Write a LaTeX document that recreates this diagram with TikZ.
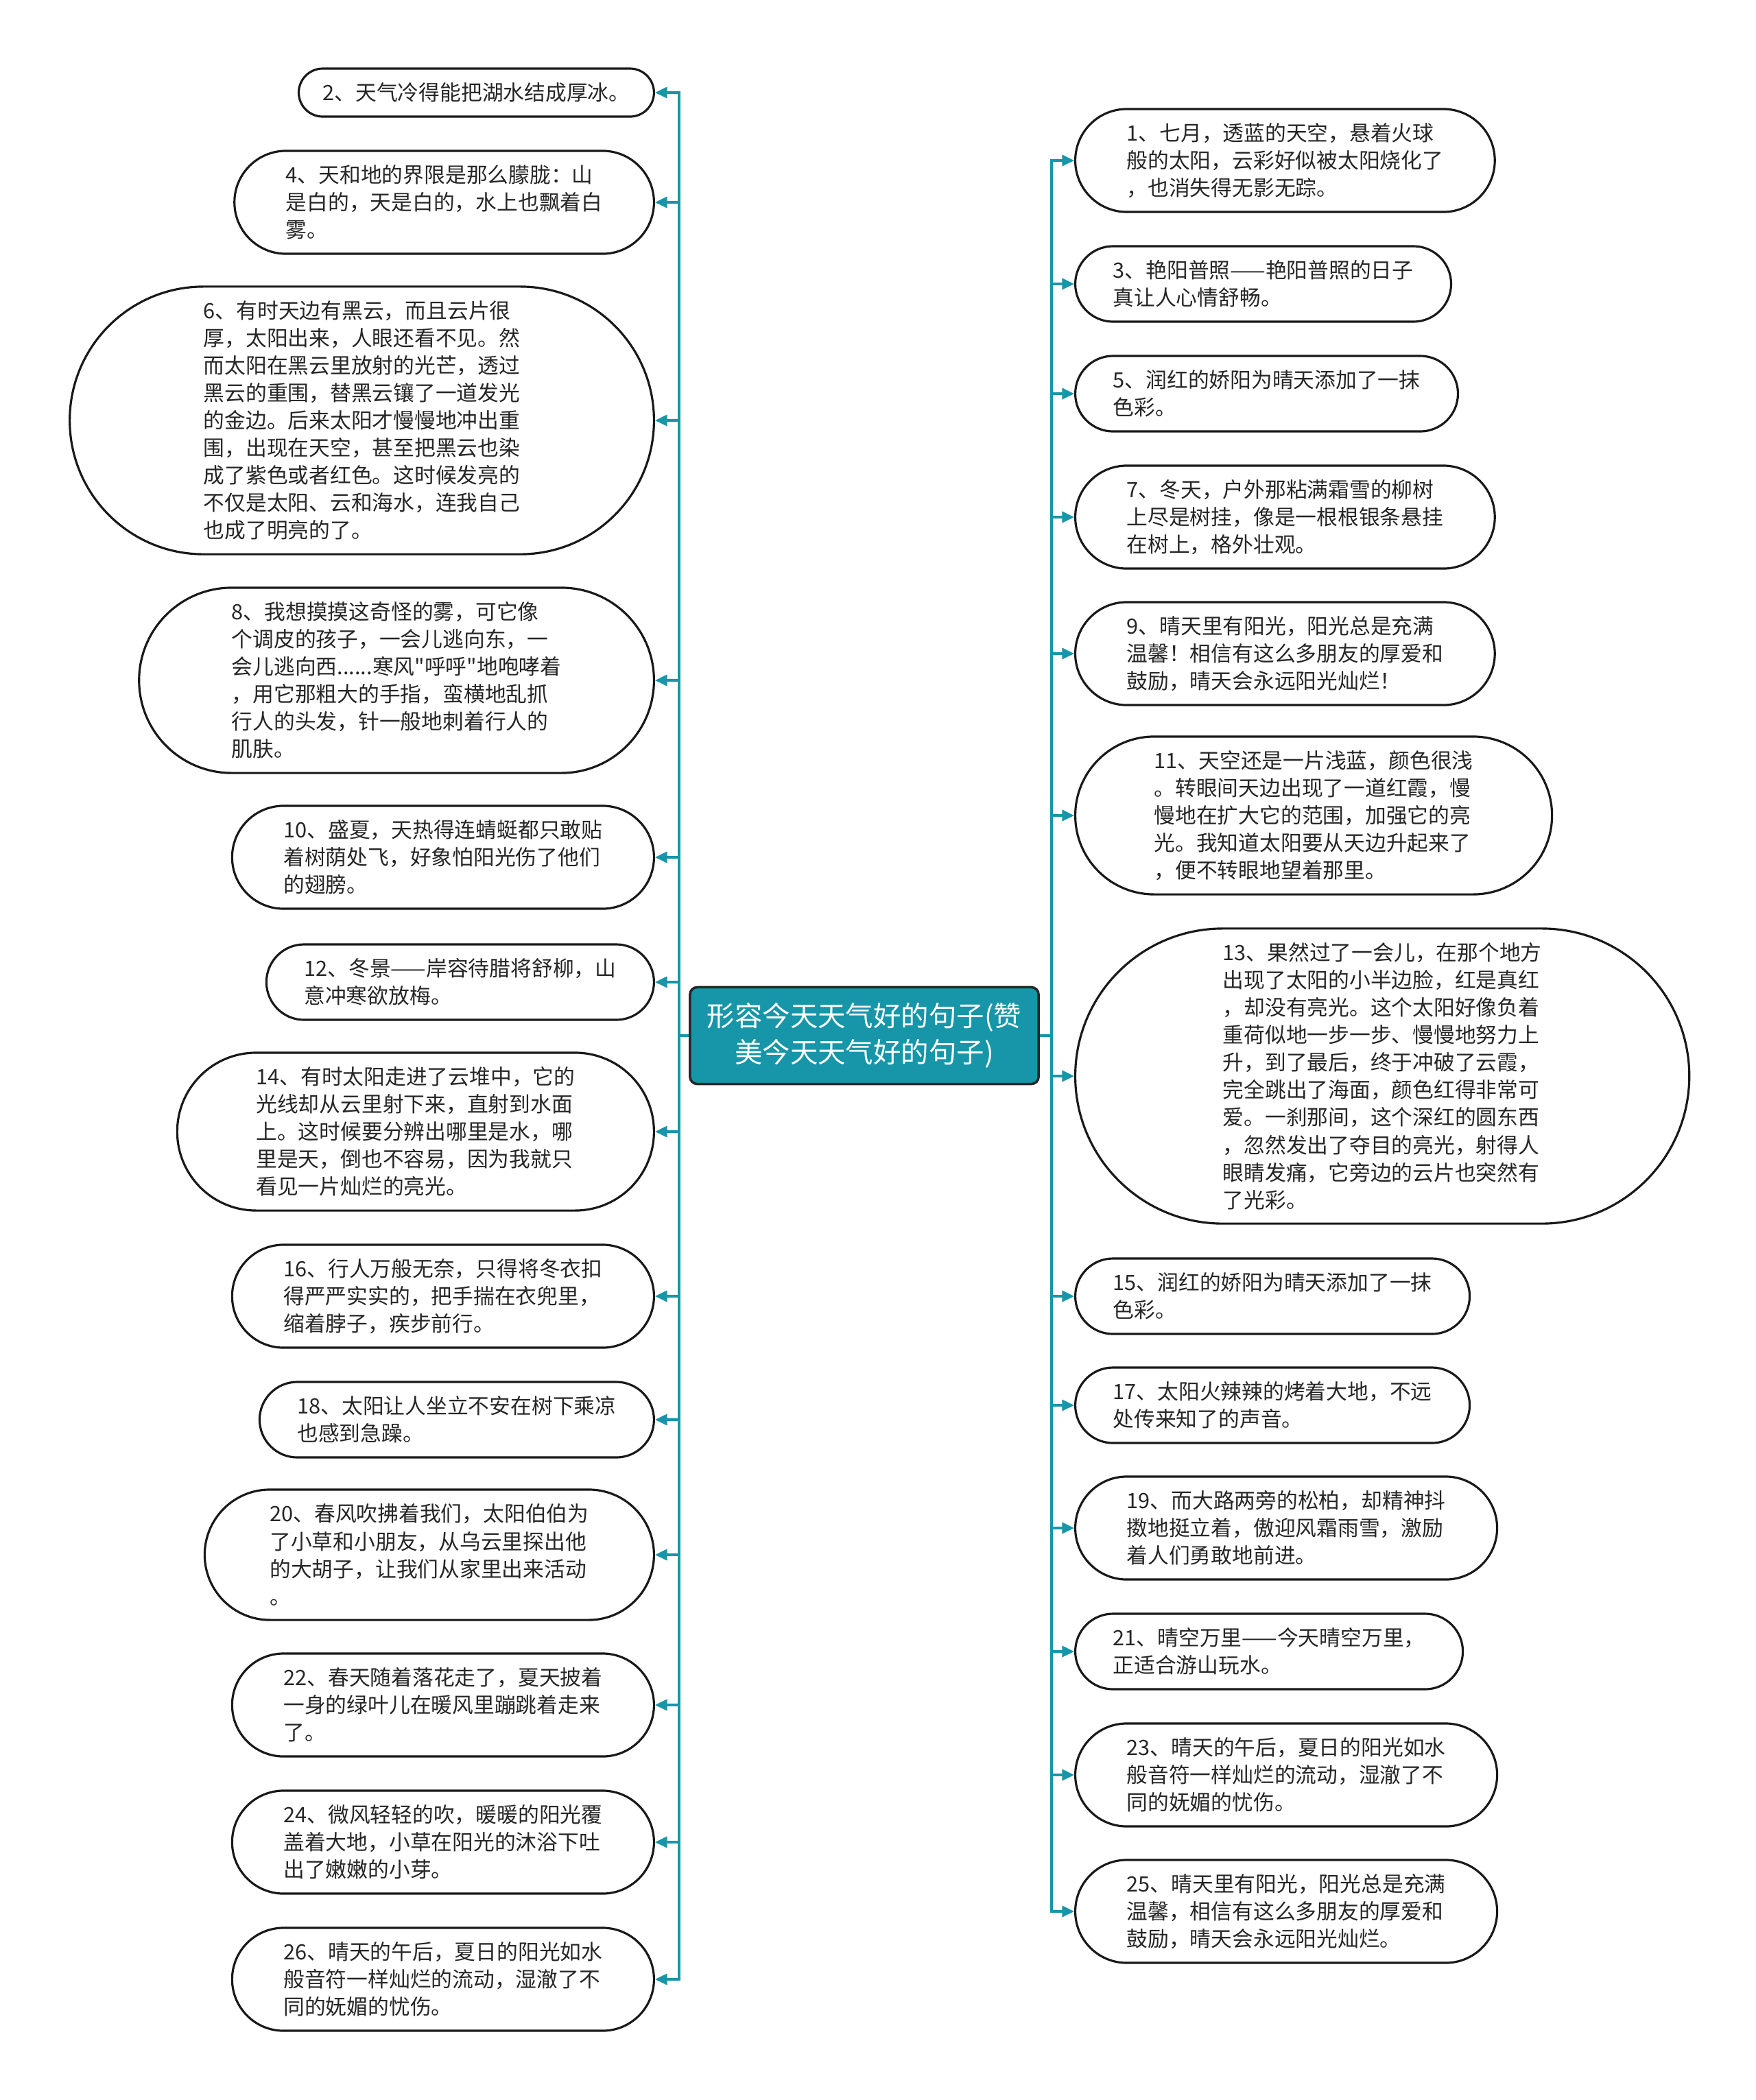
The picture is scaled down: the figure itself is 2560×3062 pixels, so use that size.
\documentclass[tikz,border=0pt]{standalone}
\usepackage{fontspec}
\newfontfamily\cjk{Noto Sans CJK SC}
\usetikzlibrary{arrows.meta}
\definecolor{mapteal}{RGB}{22,150,168}
\begin{document}
\begin{tikzpicture}[x=0.01cm, y=-0.01cm,
  leaf/.style={rectangle, draw=black!90, line width=0.9pt, fill=white,
    minimum height={0.4cm*#1+0.3cm}, inner ysep=0pt,
    inner xsep={0.2cm*#1+0.15cm}, rounded corners={0.2cm*#1+0.15cm},
    align=left, text=black!85, font=\cjk\fontsize{8.75pt}{11.4pt}\selectfont},
  root/.style={rectangle, rounded corners=3pt, draw=black!85, line width=1pt,
    fill=mapteal, text=white, align=center, minimum width=5.08cm, minimum height=1.41cm,
    font=\cjk\fontsize{11.5pt}{15pt}\selectfont},
  link/.style={draw=mapteal, line width=0.9pt, -{Triangle[length=5pt,width=4.6pt]}}]
% page size, one unit is one pixel of the 2560x3062 sheet
\useasboundingbox[fill=white] (0,0) rectangle (2560,3062);

% the centre topic
\node[root] (root) at (1260,1510) {形容今天天气好的句子(赞\\美今天天气好的句子)};
\coordinate (lj) at (990,1510); % left trunk
\coordinate (rj) at (1533,1510); % right trunk

% left column, even numbers (leaf=number of lines)
\node[leaf=1, anchor=east] (n2) at (955,135) {2、天气冷得能把湖水结成厚冰。};
\node[leaf=3, anchor=east] (n4) at (955,295) {4、天和地的界限是那么朦胧：山\\是白的，天是白的，水上也飘着白\\雾。};
\node[leaf=9, anchor=east] (n6) at (955,613) {6、有时天边有黑云，而且云片很\\厚，太阳出来，人眼还看不见。然\\而太阳在黑云里放射的光芒，透过\\黑云的重围，替黑云镶了一道发光\\的金边。后来太阳才慢慢地冲出重\\围，出现在天空，甚至把黑云也染\\成了紫色或者红色。这时候发亮的\\不仅是太阳、云和海水，连我自己\\也成了明亮的了。};
\node[leaf=6, anchor=east] (n8) at (955,992) {8、我想摸摸这奇怪的雾，可它像\\个调皮的孩子，一会儿逃向东，一\\会儿逃向西......寒风"呼呼"地咆哮着\\，用它那粗大的手指，蛮横地乱抓\\行人的头发，针一般地刺着行人的\\肌肤。};
\node[leaf=3, anchor=east] (n10) at (955,1250) {10、盛夏，天热得连蜻蜓都只敢贴\\着树荫处飞，好象怕阳光伤了他们\\的翅膀。};
\node[leaf=2, anchor=east] (n12) at (955,1432) {12、冬景——岸容待腊将舒柳，山\\意冲寒欲放梅。};
\node[leaf=5, anchor=east] (n14) at (955,1650) {14、有时太阳走进了云堆中，它的\\光线却从云里射下来，直射到水面\\上。这时候要分辨出哪里是水，哪\\里是天，倒也不容易，因为我就只\\看见一片灿烂的亮光。};
\node[leaf=3, anchor=east] (n16) at (955,1890) {16、行人万般无奈，只得将冬衣扣\\得严严实实的，把手揣在衣兜里，\\缩着脖子，疾步前行。};
\node[leaf=2, anchor=east] (n18) at (955,2070) {18、太阳让人坐立不安在树下乘凉\\也感到急躁。};
\node[leaf=4, anchor=east] (n20) at (955,2267) {20、春风吹拂着我们，太阳伯伯为\\了小草和小朋友，从乌云里探出他\\的大胡子，让我们从家里出来活动\\。};
\node[leaf=3, anchor=east] (n22) at (955,2486) {22、春天随着落花走了，夏天披着\\一身的绿叶儿在暖风里蹦跳着走来\\了。};
\node[leaf=3, anchor=east] (n24) at (955,2686) {24、微风轻轻的吹，暖暖的阳光覆\\盖着大地，小草在阳光的沐浴下吐\\出了嫩嫩的小芽。};
\node[leaf=3, anchor=east] (n26) at (955,2886) {26、晴天的午后，夏日的阳光如水\\般音符一样灿烂的流动，湿澈了不\\同的妩媚的忧伤。};

% right column, odd numbers
\node[leaf=3, anchor=west] (n1) at (1566,234) {1、七月，透蓝的天空，悬着火球\\般的太阳，云彩好似被太阳烧化了\\，也消失得无影无踪。};
\node[leaf=2, anchor=west] (n3) at (1566,414) {3、艳阳普照——艳阳普照的日子\\真让人心情舒畅。};
\node[leaf=2, anchor=west] (n5) at (1566,574) {5、润红的娇阳为晴天添加了一抹\\色彩。};
\node[leaf=3, anchor=west] (n7) at (1566,754) {7、冬天，户外那粘满霜雪的柳树\\上尽是树挂，像是一根根银条悬挂\\在树上，格外壮观。};
\node[leaf=3, anchor=west] (n9) at (1566,953) {9、晴天里有阳光，阳光总是充满\\温馨！相信有这么多朋友的厚爱和\\鼓励，晴天会永远阳光灿烂！};
\node[leaf=5, anchor=west] (n11) at (1566,1189) {11、天空还是一片浅蓝，颜色很浅\\。转眼间天边出现了一道红霞，慢\\慢地在扩大它的范围，加强它的亮\\光。我知道太阳要从天边升起来了\\，便不转眼地望着那里。};
\node[leaf=10, anchor=west] (n13) at (1566,1569) {13、果然过了一会儿，在那个地方\\出现了太阳的小半边脸，红是真红\\，却没有亮光。这个太阳好像负着\\重荷似地一步一步、慢慢地努力上\\升，到了最后，终于冲破了云霞，\\完全跳出了海面，颜色红得非常可\\爱。一刹那间，这个深红的圆东西\\，忽然发出了夺目的亮光，射得人\\眼睛发痛，它旁边的云片也突然有\\了光彩。};
\node[leaf=2, anchor=west] (n15) at (1566,1890) {15、润红的娇阳为晴天添加了一抹\\色彩。};
\node[leaf=2, anchor=west] (n17) at (1566,2049) {17、太阳火辣辣的烤着大地，不远\\处传来知了的声音。};
\node[leaf=3, anchor=west] (n19) at (1566,2228) {19、而大路两旁的松柏，却精神抖\\擞地挺立着，傲迎风霜雨雪，激励\\着人们勇敢地前进。};
\node[leaf=2, anchor=west] (n21) at (1566,2408) {21、晴空万里——今天晴空万里，\\正适合游山玩水。};
\node[leaf=3, anchor=west] (n23) at (1566,2588) {23、晴天的午后，夏日的阳光如水\\般音符一样灿烂的流动，湿澈了不\\同的妩媚的忧伤。};
\node[leaf=3, anchor=west] (n25) at (1566,2787) {25、晴天里有阳光，阳光总是充满\\温馨，相信有这么多朋友的厚爱和\\鼓励，晴天会永远阳光灿烂。};

% connectors to the left
\draw[link] (root.west) -- (lj) |- (n2.east);
\draw[link] (root.west) -- (lj) |- (n4.east);
\draw[link] (root.west) -- (lj) |- (n6.east);
\draw[link] (root.west) -- (lj) |- (n8.east);
\draw[link] (root.west) -- (lj) |- (n10.east);
\draw[link] (root.west) -- (lj) |- (n12.east);
\draw[link] (root.west) -- (lj) |- (n14.east);
\draw[link] (root.west) -- (lj) |- (n16.east);
\draw[link] (root.west) -- (lj) |- (n18.east);
\draw[link] (root.west) -- (lj) |- (n20.east);
\draw[link] (root.west) -- (lj) |- (n22.east);
\draw[link] (root.west) -- (lj) |- (n24.east);
\draw[link] (root.west) -- (lj) |- (n26.east);

% connectors to the right
\draw[link] (root.east) -- (rj) |- (n1.west);
\draw[link] (root.east) -- (rj) |- (n3.west);
\draw[link] (root.east) -- (rj) |- (n5.west);
\draw[link] (root.east) -- (rj) |- (n7.west);
\draw[link] (root.east) -- (rj) |- (n9.west);
\draw[link] (root.east) -- (rj) |- (n11.west);
\draw[link] (root.east) -- (rj) |- (n13.west);
\draw[link] (root.east) -- (rj) |- (n15.west);
\draw[link] (root.east) -- (rj) |- (n17.west);
\draw[link] (root.east) -- (rj) |- (n19.west);
\draw[link] (root.east) -- (rj) |- (n21.west);
\draw[link] (root.east) -- (rj) |- (n23.west);
\draw[link] (root.east) -- (rj) |- (n25.west);
\end{tikzpicture}
\end{document}
